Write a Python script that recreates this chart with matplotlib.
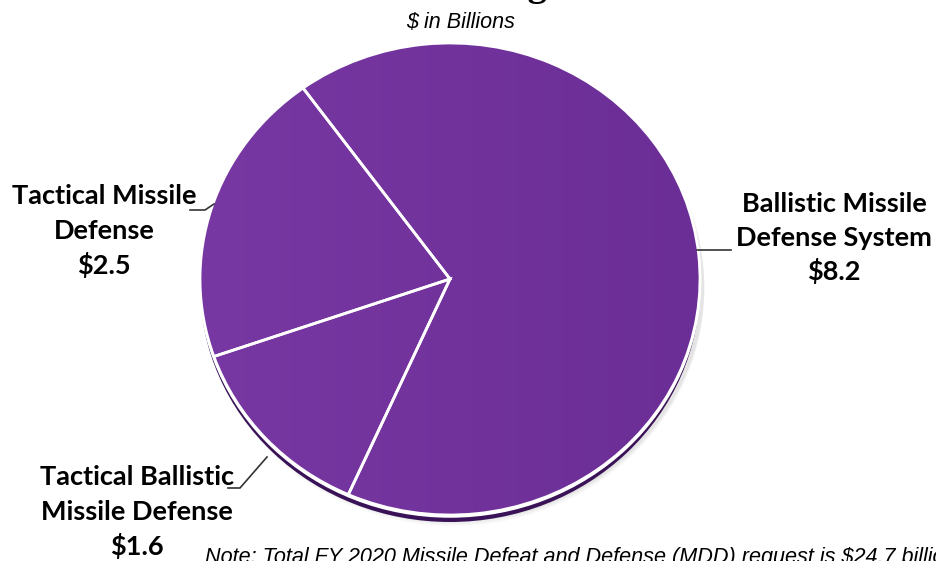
import matplotlib
matplotlib.use("Agg")
import matplotlib.pyplot as plt
import numpy as np
from matplotlib.patches import Ellipse
from matplotlib.colors import LinearSegmentedColormap

# ---- data ----
categories = ["Ballistic Missile\nDefense System", "Tactical Missile\nDefense", "Tactical Ballistic\nMissile Defense"]
values = [8.2, 2.5, 1.6]
value_labels = ["$8.2", "$2.5", "$1.6"]
title = "MDA Budget"
subtitle = "$ in Billions"
note = "Note: Total FY 2020 Missile Defeat and Defense (MDD) request is $24.7 billion"

W, H = 937, 561
fig = plt.figure(figsize=(W / 100, H / 100), dpi=100)
fig.patch.set_facecolor("white")

# pie geometry (pixels)
cx, cy, rx, ry = 450, 279, 250, 236
ax = fig.add_axes([0, 0, 1, 1])
ax.axis("off")

base = "#7030A0"
# shadow + 3D rim
for i, a in enumerate([0.04, 0.05, 0.07]):
    ax.add_patch(Ellipse((3 / rx, -(11 - i * 2) / ry), 2.01, 2.0, facecolor="#555555", alpha=a,
                         edgecolor="none", zorder=0.5))
ax.add_patch(Ellipse((0, -7 / ry), 2.0, 2.0, facecolor="#3a1257", edgecolor="none", zorder=0.8))
ax.add_patch(Ellipse((0, -1.5 / ry), 2.0, 2.0, facecolor="none", edgecolor="white", linewidth=1.8, zorder=0.9))

wedges, _ = ax.pie(values, startangle=246, counterclock=True, colors=[base] * len(values),
                   radius=1, center=(0, 0), wedgeprops=dict(edgecolor="none", zorder=1))

# subtle horizontal gradient
cmap = LinearSegmentedColormap.from_list("g", ["#7838a3", "#6b2d96"])
grad = np.linspace(0, 1, 256).reshape(1, -1)
im = ax.imshow(grad, extent=(-1, 1, -1, 1), cmap=cmap, aspect="auto", zorder=2, interpolation="bilinear")
clip = Ellipse((0, 0), 2.0, 2.0, transform=ax.transData)
im.set_clip_path(clip)

ax.pie(values, startangle=246, counterclock=True, radius=1, center=(0, 0),
       wedgeprops=dict(fill=False, edgecolor="white", linewidth=2, zorder=3))

ax.set_aspect("auto")
ax.set_xlim(-cx / rx, (W - cx) / rx)
ax.set_ylim(-(H - cy) / ry, cy / ry)

# overlay in pixel coords
ov = fig.add_axes([0, 0, 1, 1])
ov.set_xlim(0, W)
ov.set_ylim(H, 0)
ov.axis("off")
ov.patch.set_alpha(0)

label_font = dict(family=["Lato", "DejaVu Sans"], weight="bold", size=19.5, color="black")
label_pos = [(834, [212, 246, 280]), (104, [204, 239, 274]), (137, [485, 520, 555])]
for cat, vl, (x, ys) in zip(categories, value_labels, label_pos):
    lines = cat.split("\n") + [vl]
    for ln, y in zip(lines, ys):
        ov.text(x, y, ln, ha="center", va="baseline", **label_font)

# leader lines
ov.plot([697, 731], [250, 250], color="#333333", lw=1.2)
ov.plot([190, 205, 214], [210, 210, 204], color="#333333", lw=1.2)
ov.plot([228, 240, 267], [488, 488, 457], color="#333333", lw=1.2)

fig.text(468 / W, 1 + 5 / H, title, ha="center", va="baseline",
         family="Liberation Serif", weight="bold", size=28)
fig.text(461 / W, 1 - 22 / H, subtitle, ha="center", va="center",
         family="Liberation Sans", style="italic", size=15.5)
fig.text(205 / W, (H - 563) / H, note, ha="left", va="baseline",
         family="Liberation Sans", style="italic", size=15.6)

fig.savefig("out.png", dpi=100)
